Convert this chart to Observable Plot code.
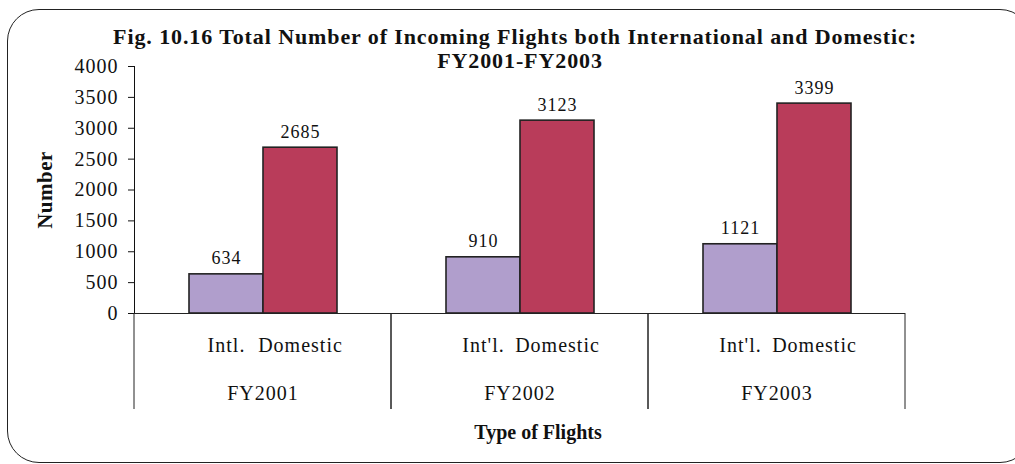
<!DOCTYPE html>
<html><head><meta charset="utf-8">
<script src="https://cdn.jsdelivr.net/npm/d3@7"></script>
<script src="https://cdn.jsdelivr.net/npm/@observablehq/plot@0.6"></script>
<style>
html,body{margin:0;padding:0;background:#fff;overflow:hidden;width:1015px;height:464px;}
#wrap{position:relative;width:1015px;height:464px;font-family:"Liberation Serif","Times New Roman",serif;color:#111;}
#chart{position:absolute;left:0;top:0;}
#frame{position:absolute;left:7px;top:9px;width:1025px;height:454px;border:1.5px solid #222;border-radius:32px;box-sizing:border-box;pointer-events:none;}
.t{position:absolute;font-weight:bold;white-space:nowrap;transform:translate(-50%,-50%);line-height:1;}
</style></head><body>
<div id="wrap">
<div id="chart"></div>
<div class="t" style="left:515px;top:37px;font-size:22px;letter-spacing:0.9px">Fig. 10.16 Total Number of Incoming Flights both International and Domestic:</div>
<div class="t" style="left:520px;top:61px;font-size:22px;letter-spacing:0.9px">FY2001-FY2003</div>
<div class="t" style="left:45px;top:190px;font-size:21px;letter-spacing:0.5px;transform:translate(-50%,-50%) rotate(-90deg)">Number</div>
<div class="t" style="left:538px;top:432px;font-size:20px">Type of Flights</div>
<div id="frame"></div>
</div>
<script>
const years = ["FY2001", "FY2002", "FY2003"];
const types = ["Intl", "Domestic"];
const intlLabels = ["Intl.", "Int'l.", "Int'l."];
const domesticLabels = ["Domestic", "Domestic", "Domestic"];
const intl = [634, 910, 1121];
const domestic = [2685, 3123, 3399];
const yTicks = [0, 500, 1000, 1500, 2000, 2500, 3000, 3500, 4000];

const rows = [];
years.forEach((y, i) => {
  rows.push({year: y, type: "Intl", label: intlLabels[i], value: intl[i]});
  rows.push({year: y, type: "Domestic", label: domesticLabels[i], value: domestic[i]});
});

function separators(index, scales, values, dimensions) {
  const [a, b] = scales.x.range();
  const y0 = scales.y(0);
  const g = d3.create("svg:g").attr("stroke", "#222").attr("stroke-width", 1);
  for (const x of [a, b]) {
    g.append("line").attr("x1", x).attr("x2", x).attr("y1", y0).attr("y2", y0 + 96);
  }
  return g.node();
}

const chart = Plot.plot({
  width: 1015,
  height: 464,
  marginLeft: 133,
  marginRight: 110,
  marginTop: 66,
  marginBottom: 151,
  style: {fontFamily: "'Liberation Serif', 'Times New Roman', serif", fontSize: "20px", background: "transparent", color: "#111", letterSpacing: "1px"},
  fx: {domain: years, padding: 0, axis: null, label: null},
  x: {domain: types, paddingInner: 0, paddingOuter: 0.72, axis: null, label: null},
  y: {domain: [0, 4000], ticks: yTicks, tickFormat: d => String(d), tickSize: 6, tickPadding: 10, label: null, line: true},
  color: {domain: types, range: ["#b09ecc", "#b93c5a"]},
  marks: [
    Plot.barY(rows, {fx: "year", x: "type", y: "value", fill: "type", stroke: "#222", strokeWidth: 1.6}),
    Plot.ruleY([0], {stroke: "#222", strokeWidth: 1.2}),
    Plot.text(rows, {fx: "year", x: "type", y: "value", text: d => String(d.value), dy: -10, lineAnchor: "bottom", fontSize: 18, fill: "#111"}),
    Plot.text(rows, {fx: "year", x: "type", y: 0, text: "label", dy: 32, fontSize: 20, fill: "#111"}),
    Plot.text(years, {fx: d => d, y: 0, text: d => d, dy: 80, frameAnchor: "middle", fontSize: 20, fill: "#111"}),
    separators
  ]
});
document.getElementById("chart").appendChild(chart);
</script>
</body></html>
